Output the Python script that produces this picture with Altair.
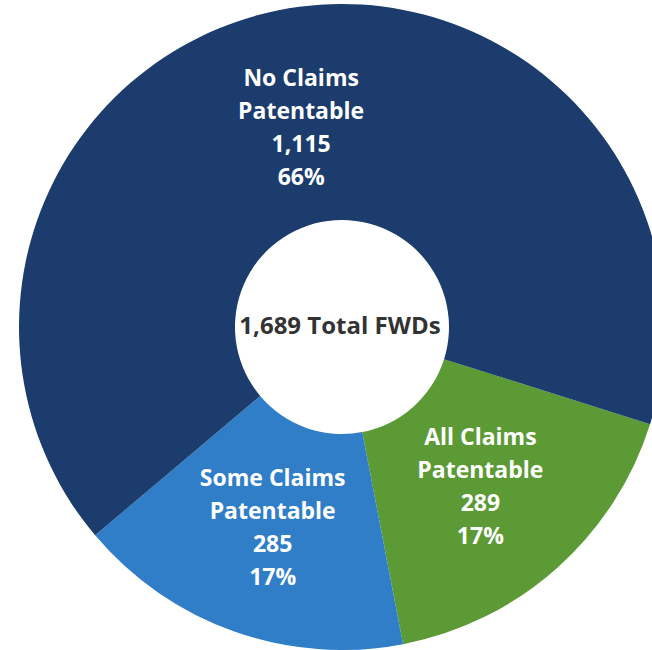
import math
import altair as alt
import pandas as pd

# ---- data ----
categories = ["All Claims Patentable", "Some Claims Patentable", "No Claims Patentable"]
counts = [289, 285, 1115]
colors = ["#5b9a34", "#2f7ec7", "#1b3c6c"]
order = [0, 1, 2]

total = sum(counts)
labels = []
for c, n in zip(categories, counts):
    first, second = c.split(" Claims ")
    pct = round(100 * n / total)
    labels.append(f"{first} Claims\n{second}\n{n:,}\n{pct}%")

df = pd.DataFrame({"category": categories, "count": counts, "order": order, "label": labels})
center_df = pd.DataFrame({"text": [f"{total:,} Total FWDs"]})

CX, CY = 342, 327
R_OUT, R_IN = 323, 107
START = math.radians(107.5)
LH = 33

theta = alt.Theta("count:Q", stack=True,
                  scale=alt.Scale(range=[START, START + 2 * math.pi]))
color = alt.Color("category:N", scale=alt.Scale(domain=categories, range=colors), legend=None)

base = alt.Chart(df).encode(
    theta=theta,
    order=alt.Order("order:Q"),
    x=alt.value(CX),
    y=alt.value(CY),
)

arcs = base.mark_arc(radius=R_OUT, radius2=R_IN, stroke=None).encode(color=color)

text = base.mark_text(
    radius=208, dy=-44, font="Open Sans", fontWeight="bold", fontSize=23,
    color="white", lineBreak="\n", lineHeight=LH, align="center", baseline="middle",
).encode(text="label:N")

center = alt.Chart(center_df).mark_text(
    font="Open Sans", fontWeight="bold", fontSize=24, color="#333333",
    align="center", baseline="middle",
).encode(text="text:N", x=alt.value(CX - 2), y=alt.value(CY))

chart = (arcs + text + center).properties(
    width=652, height=650, autosize=alt.AutoSizeParams(type="none"), padding=0,
).configure_view(stroke=None)

chart.save("out.html", embed_options={"renderer": "svg", "actions": False})
